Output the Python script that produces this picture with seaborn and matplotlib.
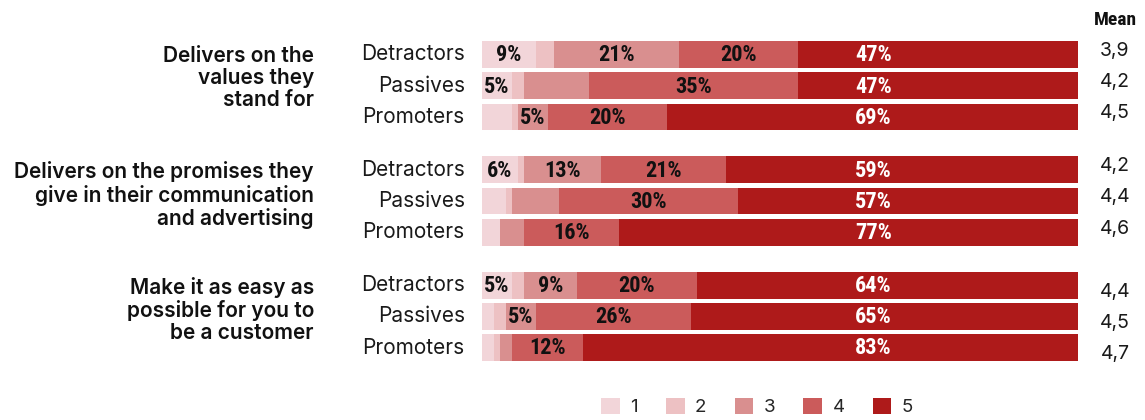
import matplotlib
matplotlib.use("Agg")
import matplotlib.pyplot as plt
from matplotlib import font_manager as fm
from matplotlib.patches import Patch
import numpy as np
import pandas as pd
import seaborn as sns

# --- data -------------------------------------------------------------
statements = [
    "Delivers on the\nvalues they\nstand for",
    "Delivers on the promises they\ngive in their communication\nand advertising",
    "Make it as easy as\npossible for you to\nbe a customer",
]
segments = ["Detractors", "Passives", "Promoters"]
score_levels = ["1", "2", "3", "4", "5"]

# share (%) answering each score, rows = statement x segment
score_1 = [9, 5, 5, 6, 4, 3, 5, 2, 2]
score_2 = [3, 2, 1, 1, 1, 0, 2, 2, 1]
score_3 = [21, 11, 5, 13, 8, 4, 9, 5, 2]
score_4 = [20, 35, 20, 21, 30, 16, 20, 26, 12]
score_5 = [47, 47, 69, 59, 57, 77, 64, 65, 83]
means = [3.9, 4.2, 4.5, 4.2, 4.4, 4.6, 4.4, 4.5, 4.7]

# which score shares carry a printed label on each row
labelled = [
    [1, 3, 4, 5], [1, 4, 5], [3, 4, 5],
    [1, 3, 4, 5], [4, 5], [4, 5],
    [1, 3, 4, 5], [3, 4, 5], [4, 5],
]

colors = ["#F2D5D9", "#EDC1C3", "#D98F8F", "#CB5B5B", "#AE1A1A"]


def condensed_font():
    """Return text kwargs for the narrowest bold face available."""
    for fam in ["Liberation Sans Narrow", "Roboto Condensed", "Noto Sans Condensed",
                "Open Sans Condensed", "DejaVu Sans Condensed", "Arial Narrow"]:
        try:
            fm.findfont(fm.FontProperties(family=fam, weight="bold"),
                        fallback_to_default=False)
            return dict(family=fam)
        except Exception:
            pass
    for fam in ["Noto Sans", "DejaVu Sans", "Open Sans", "Roboto"]:
        try:
            p = fm.findfont(fm.FontProperties(family=fam, weight="bold", stretch="condensed"),
                            fallback_to_default=False)
            if "ondensed" in p or "arrow" in p:
                return dict(family=fam, stretch="condensed")
        except Exception:
            pass
    return dict(family="Roboto")


# --- layout helpers -------------------------------------------------------
GROUP_GAP = 0.69
BAR_H = 0.86
n_seg = len(segments)
rows = []
for g, st in enumerate(statements):
    for s, seg in enumerate(segments):
        rows.append(dict(group=g, segment=seg, y=g * (n_seg + GROUP_GAP) + s))
df = pd.DataFrame(rows)
scores = np.array([score_1, score_2, score_3, score_4, score_5], dtype=float)
cum = np.cumsum(scores, axis=0)

sns.set_theme(style="white")
plt.rcParams["font.family"] = ["Inter", "Roboto", "DejaVu Sans"]
pct_kw = condensed_font()

W, H = 1145, 420
fig = plt.figure(figsize=(W / 100, H / 100), dpi=100)
ax = fig.add_axes([482 / W, 1 - 361 / H, 596 / W, (361 - 41) / H])

# stacked bars: draw cumulative totals from the largest down
for k in range(len(score_levels) - 1, -1, -1):
    sns.barplot(
        x=cum[k], y=df["y"], orient="y", native_scale=True,
        color=colors[k], width=BAR_H, linewidth=0, errorbar=None,
        saturation=1, ax=ax,
    )

ymax = df["y"].max()
ax.set_xlim(0, 100)
ax.set_ylim(ymax + BAR_H / 2, -BAR_H / 2)
ax.set_xlabel("")
ax.set_ylabel("")
ax.set_xticks([])
ax.set_yticks([])
for sp in ax.spines.values():
    sp.set_visible(False)

# value labels inside the bars
TOP_LABEL_X = 65.7
for r in range(len(df)):
    y = df["y"].iloc[r]
    for k in labelled[r]:
        i = k - 1
        val = scores[i, r]
        start = cum[i, r] - val
        xpos = TOP_LABEL_X if k == 5 else start + val / 2
        ax.text(xpos, y + 0.03, f"{val:.0f}%", ha="center", va="center",
                fontsize=16, fontweight="bold", **pct_kw,
                color="white" if k == 5 else "#111111")

# segment names and means
MEAN_SHIFT = [-0.12, -0.12, 0.22]
for r in range(len(df)):
    y = df["y"].iloc[r]
    ax.text(-2.9, y, df["segment"].iloc[r], ha="right", va="center",
            fontsize=15, color="#1a1a1a")
    ax.text(106.2, y + MEAN_SHIFT[df["group"].iloc[r]], f"{means[r]:.1f}".replace(".", ","),
            ha="center", va="center", fontsize=14, color="#1a1a1a")

# statement labels
for g, st in enumerate(statements):
    y0 = g * (n_seg + GROUP_GAP)
    ax.text(-28.2, y0 - 0.27, st, ha="right", va="top", fontsize=15,
            fontweight="semibold", linespacing=1.13, color="#111111")

ax.text(106.3, -1.1, "Mean", ha="center", va="center", fontsize=14,
        fontweight="bold", **pct_kw, color="#111111")

handles = [Patch(facecolor=c, edgecolor="none") for c in colors]
fig.legend(handles, score_levels, loc="center", ncol=5,
           bbox_to_anchor=(757 / W, 1 - 407 / H), frameon=False,
           fontsize=13.5, handlelength=1.0, handleheight=1.0,
           handletextpad=0.55, columnspacing=1.5)

fig.savefig("out.png", dpi=100)
